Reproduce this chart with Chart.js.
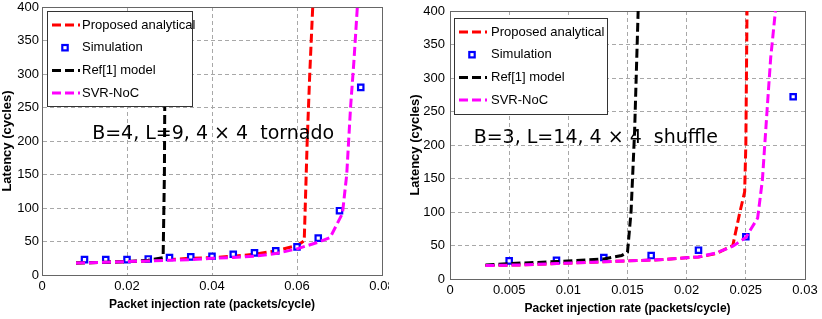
<!DOCTYPE html>
<html>
<head>
<meta charset="utf-8">
<script src="https://cdn.jsdelivr.net/npm/chart.js@4.4.0/dist/chart.umd.min.js"></script>
<style>
html, body { margin: 0; padding: 0; background: #fff; }
#wrap { position: relative; width: 822px; height: 319px; overflow: hidden; }
#left { position: absolute; left: 0; top: 0; }
#right { position: absolute; left: 389px; top: 0; background: #fff; }
</style>
</head>
<body>
<div id="wrap">
  <canvas id="left" width="400" height="319" style="width:400px;height:319px"></canvas>
  <canvas id="right" width="433" height="319" style="width:433px;height:319px"></canvas>
</div>
<script>
// series names (legend)
var seriesNames = ['Proposed analytical', 'Simulation', 'Ref[1] model', 'SVR-NoC'];

// ---- left panel: tornado ----
var noteLeft = 'B=4, L=9, 4 \u00d7 4  tornado';
var xTicksLeft = [0, 0.02, 0.04, 0.06, 0.08];
var xTickLabelsLeft = ['0', '0.02', '0.04', '0.06', '0.08'];

var propLeftX = [0.008, 0.015, 0.02, 0.025, 0.03, 0.035, 0.04, 0.045, 0.05, 0.055, 0.06, 0.0617, 0.0624, 0.063, 0.0637];
var propLeftY = [18, 19, 20, 21, 23, 25, 26, 28, 31, 36, 44, 51, 200, 300, 400];
var simLeftX = [0.01, 0.015, 0.02, 0.025, 0.03, 0.035, 0.04, 0.045, 0.05, 0.055, 0.06, 0.065, 0.07, 0.075];
var simLeftY = [23, 23, 23, 24, 26, 27, 28, 31, 33, 36, 42, 55, 96, 280];
var refLeftX = [0.008, 0.015, 0.02, 0.025, 0.0285, 0.0288, 0.029];
var refLeftY = [18, 19, 20, 22, 26, 150, 400];
var svrLeftX = [0.008, 0.015, 0.02, 0.025, 0.03, 0.035, 0.04, 0.045, 0.05, 0.055, 0.06, 0.065, 0.0678, 0.0707, 0.0717, 0.0726, 0.0734, 0.0742];
var svrLeftY = [18, 19, 20, 21, 22, 23, 25, 26, 28, 32, 39, 49, 56, 92, 150, 250, 320, 400];

// ---- right panel: shuffle ----
var noteRight = 'B=3, L=14, 4 \u00d7 4  shuffle';
var xTicksRight = [0, 0.005, 0.01, 0.015, 0.02, 0.025, 0.03];
var xTickLabelsRight = ['0', '0.005', '0.01', '0.015', '0.02', '0.025', '0.03'];

var propRightX = [0.003, 0.006, 0.009, 0.012, 0.015, 0.018, 0.021, 0.0225, 0.0239, 0.0245, 0.0249, 0.025, 0.0251];
var propRightY = [20, 21, 23, 25, 27, 29, 33, 38, 50, 100, 130, 200, 400];
var simRightX = [0.005, 0.009, 0.013, 0.017, 0.021, 0.025, 0.029];
var simRightY = [27, 28, 32, 35, 43, 63, 272];
var refRightX = [0.003, 0.005, 0.009, 0.013, 0.0145, 0.015, 0.0153, 0.0156, 0.0159];
var refRightY = [21, 23, 26, 30, 35, 40, 100, 220, 400];
var svrRightX = [0.003, 0.006, 0.009, 0.012, 0.015, 0.018, 0.021, 0.0225, 0.0239, 0.025, 0.026, 0.0264, 0.0268, 0.0271, 0.0275];
var svrRightY = [20, 21, 23, 25, 27, 29, 33, 39, 49, 62, 91, 148, 253, 330, 400];

var yTicks = [0, 50, 100, 150, 200, 250, 300, 350, 400];

Chart.defaults.font.family = '"Liberation Sans", Arial, sans-serif';
Chart.defaults.font.size = 13;
Chart.defaults.color = '#000';

function pts(xs, ys) {
  return xs.map(function(x, i) { return {x: x, y: ys[i]}; });
}

function lineSet(label, xs, ys, color, order) {
  return {
    label: label, data: pts(xs, ys), borderColor: color, backgroundColor: color,
    borderWidth: 3, borderDash: [9, 4], pointRadius: 0, tension: 0, fill: false, order: order
  };
}

function simSet(label, xs, ys, order) {
  return {
    label: label, data: pts(xs, ys), showLine: false, pointStyle: 'rect',
    pointRadius: 3.8, pointBorderWidth: 2.2, pointBorderColor: '#0000ff',
    pointBackgroundColor: '#fff', borderColor: '#0000ff', backgroundColor: '#fff', order: order
  };
}

// box round the plot, like matlab
var boxPlugin = {
  id: 'plotBox',
  beforeDatasetsDraw: function(chart) {
    var a = chart.chartArea, ctx = chart.ctx;
    ctx.save();
    ctx.strokeStyle = '#666';
    ctx.lineWidth = 1;
    ctx.strokeRect(a.left + 0.5, a.top + 0.5, a.right - a.left, a.bottom - a.top);
    ctx.restore();
  }
};

// note text, placed in data coordinates
var notePlugin = {
  id: 'noteText',
  afterDatasetsDraw: function(chart, args, opts) {
    if (!opts.text) return;
    var ctx = chart.ctx;
    var px = chart.scales.x.getPixelForValue(opts.x);
    var py = chart.scales.y.getPixelForValue(opts.y);
    ctx.save();
    ctx.font = '19px "DejaVu Sans", sans-serif';
    ctx.fillStyle = '#000';
    ctx.textBaseline = 'alphabetic';
    ctx.fillText(opts.text, px, py);
    ctx.restore();
  }
};

// legend box inside the plot
var legendPlugin = {
  id: 'boxLegend',
  afterDraw: function(chart, args, opts) {
    var a = chart.chartArea, ctx = chart.ctx;
    var x0 = a.left + opts.dx, y0 = a.top + opts.dy;
    var w = opts.w, h = opts.h;
    ctx.save();
    ctx.fillStyle = '#fff';
    ctx.fillRect(x0, y0, w, h);
    ctx.strokeStyle = '#333';
    ctx.lineWidth = 1;
    ctx.strokeRect(x0 + 0.5, y0 + 0.5, w, h);
    ctx.font = '13px "Liberation Sans", Arial, sans-serif';
    ctx.textBaseline = 'middle';
    chart.data.datasets.forEach(function(ds, i) {
      var ry = y0 + 14 + i * 22.7;
      if (ds.showLine === false) {
        var s = 5.4;
        ctx.strokeStyle = ds.pointBorderColor;
        ctx.lineWidth = ds.pointBorderWidth;
        ctx.fillStyle = ds.pointBackgroundColor;
        ctx.fillRect(x0 + 18 - s / 2, ry - s / 2, s, s);
        ctx.strokeRect(x0 + 18 - s / 2, ry - s / 2, s, s);
      } else {
        ctx.strokeStyle = ds.borderColor;
        ctx.lineWidth = ds.borderWidth;
        ctx.setLineDash(ds.borderDash);
        ctx.beginPath();
        ctx.moveTo(x0 + 5, ry);
        ctx.lineTo(x0 + 33, ry);
        ctx.stroke();
        ctx.setLineDash([]);
      }
      ctx.fillStyle = '#000';
      ctx.fillText(ds.label, x0 + opts.textX, ry);
    });
    ctx.restore();
  }
};

function makeChart(id, cfg) {
  var ctx = document.getElementById(id).getContext('2d');
  return new Chart(ctx, {
    type: 'line',
    data: {
      datasets: [
        lineSet(seriesNames[0], cfg.prop[0], cfg.prop[1], '#ff0000', 3),
        simSet(seriesNames[1], cfg.sim[0], cfg.sim[1], 2),
        lineSet(seriesNames[2], cfg.ref[0], cfg.ref[1], '#000000', 1),
        lineSet(seriesNames[3], cfg.svr[0], cfg.svr[1], '#ff00ff', 0)
      ]
    },
    plugins: [boxPlugin, notePlugin, legendPlugin],
    options: {
      responsive: false,
      animation: false,
      layout: { padding: { left: 0, right: cfg.padRight, top: cfg.padTop, bottom: 0 } },
      scales: {
        x: {
          type: 'linear', min: cfg.xTicks[0], max: cfg.xTicks[cfg.xTicks.length - 1],
          afterBuildTicks: function(s) { s.ticks = cfg.xTicks.map(function(v) { return {value: v}; }); },
          afterFit: function(s) { s.height = cfg.xHeight; s.paddingLeft = 0; s.paddingRight = 0; },
          ticks: {
            padding: 4, maxRotation: 0, autoSkip: false,
            callback: function(v, i) { return cfg.xLabels[i]; }
          },
          grid: { color: '#a8a8a8', lineWidth: 1, drawTicks: false },
          border: { display: true, color: '#666', dash: [4, 3] },
          title: {
            display: true, text: 'Packet injection rate (packets/cycle)',
            font: { size: 12, weight: 'bold' }, padding: { top: 0, bottom: cfg.xTitlePad }
          }
        },
        y: {
          type: 'linear', min: 0, max: 400,
          afterBuildTicks: function(s) { s.ticks = yTicks.map(function(v) { return {value: v}; }); },
          afterFit: function(s) { s.width = cfg.yWidth; s.paddingTop = 0; s.paddingBottom = 0; },
          ticks: { padding: cfg.yTickPad },
          grid: { color: '#a8a8a8', lineWidth: 1, drawTicks: false },
          border: { display: true, color: '#666', dash: [4, 3] },
          title: {
            display: true, text: 'Latency (cycles)',
            font: { size: 13, weight: 'bold' }, padding: { top: cfg.yTitlePad, bottom: 0 }
          }
        }
      },
      plugins: {
        legend: { display: false },
        tooltip: { enabled: false },
        noteText: { text: cfg.note[0], x: cfg.note[1], y: cfg.note[2] },
        boxLegend: cfg.legend
      }
    }
  });
}

makeChart('left', {
  prop: [propLeftX, propLeftY], sim: [simLeftX, simLeftY],
  ref: [refLeftX, refLeftY], svr: [svrLeftX, svrLeftY],
  xTicks: xTicksLeft, xLabels: xTickLabelsLeft,
  padRight: 18, padTop: 7, xHeight: 44, yWidth: 42,
  xTitlePad: 7, yTitlePad: 0, yTickPad: 3,
  note: [noteLeft, 0.0118, 203],
  legend: { dx: 5, dy: 4, w: 145, h: 95, textX: 35 }
});

makeChart('right', {
  prop: [propRightX, propRightY], sim: [simRightX, simRightY],
  ref: [refRightX, refRightY], svr: [svrRightX, svrRightY],
  xTicks: xTicksRight, xLabels: xTickLabelsRight,
  padRight: 17, padTop: 11, xHeight: 40, yWidth: 61,
  xTitlePad: 3, yTitlePad: 19, yTickPad: 5,
  note: [noteRight, 0.002, 203],
  legend: { dx: 4, dy: 7, w: 153, h: 96, textX: 37 }
});
</script>
</body>
</html>
